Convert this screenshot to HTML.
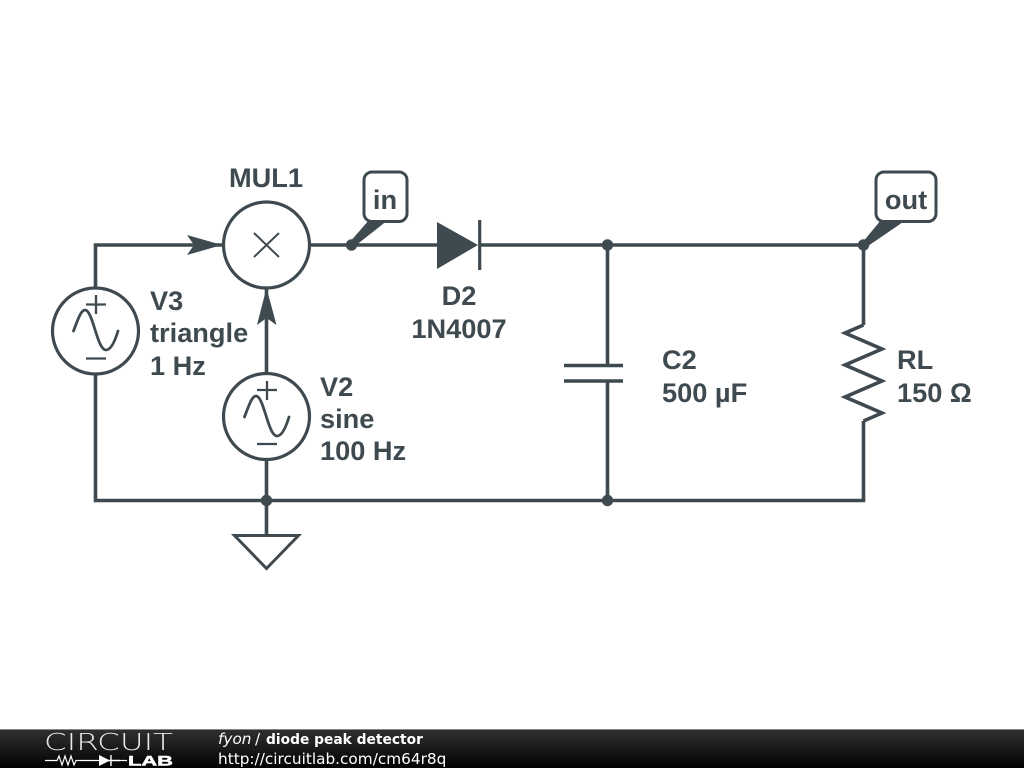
<!DOCTYPE html>
<html>
<head>
<meta charset="utf-8">
<title>diode peak detector</title>
<style>
html,body{margin:0;padding:0;background:#fff;width:1024px;height:768px;overflow:hidden}
svg{display:block}
.l{font-family:"Liberation Sans",sans-serif;font-weight:bold;font-size:27.2px;fill:#3f4a50}
.f{font-family:"DejaVu Sans",sans-serif;font-size:15.3px;fill:#fff}
</style>
</head>
<body>
<svg width="1024" height="768" viewBox="0 0 1024 768" xmlns="http://www.w3.org/2000/svg">
<defs>
<linearGradient id="bar" x1="0" y1="0" x2="0" y2="1">
<stop offset="0" stop-color="#303030"/>
<stop offset="0.5" stop-color="#1a1a1a"/>
<stop offset="1" stop-color="#000"/>
</linearGradient>
</defs>
<rect width="1024" height="768" fill="#fff"/>

<g fill="none" stroke="#3f4a50" stroke-width="3.600" stroke-linejoin="miter">
  <!-- wires -->
  <path d="M95.5 288V245H222"/>
  <path d="M95.5 374V500.5H863.5V421"/>
  <path d="M266.5 288V373"/>
  <path d="M266.5 460V535"/>
  <path d="M310 245H437"/>
  <path d="M480 245H863.5V325"/>
  <path d="M607.5 245V365.5"/>
  <path d="M607.5 381V500.5"/>
  <!-- resistor -->
  <path d="M863.5 325L845 333L882 349L845 365L882 381L845 397L882 413L863.5 421"/>
  <!-- circles -->
  <circle cx="266.5" cy="245" r="43" stroke-width="3.200"/>
  <circle cx="95.5" cy="331" r="43" stroke-width="3.200"/>
  <circle cx="266.5" cy="416.5" r="43" stroke-width="3.200"/>
  <!-- capacitor -->
  <path d="M564 365.5H623M564 381H623"/>
  <!-- ground -->
  <path d="M234.500 535.500H298.500L266.500 568.500Z" stroke-width="3"/>
  <!-- diode bar -->
  <path d="M479.700 220V270" stroke-width="3.200"/>
</g>

<!-- multiply symbol -->
<path d="M254 233L279 257M279 233L254 257" fill="none" stroke="#3f4a50" stroke-width="2"/>

<!-- sources: signs and waves -->
<g fill="none" stroke="#3f4a50" stroke-width="2.300">
  <path d="M86 304.500H106M96 295V314M86 358.500H106"/>
  <path d="M73.500 331C78 319 81 310 85 310C93 310 97 350 106 350C111 350 115 341 118 331" stroke-linecap="round" stroke-width="2.800"/>
  <path d="M257 390H277M267 381V400M257 444H277"/>
  <path d="M244.500 417C249 405 252 396 256 396C264 396 268 436 277 436C282 436 286 427 289 417" stroke-linecap="round" stroke-width="2.800"/>
</g>

<g fill="#3f4a50">
  <!-- arrowheads -->
  <path d="M187 235L222 245L187 255L194 245Z"/>
  <path d="M257 325L266.500 288L276.500 325L266.500 318Z"/>
  <!-- diode -->
  <path d="M437 222L478 245L437 269Z"/>
  <!-- junction dots -->
  <circle cx="351.500" cy="245" r="5.700"/>
  <circle cx="607.500" cy="245" r="5.700"/>
  <circle cx="863.500" cy="245" r="5.700"/>
  <circle cx="607.500" cy="500.500" r="5.700"/>
  <circle cx="266.500" cy="500.500" r="5.700"/>
  <!-- tag pointers -->
  <path d="M349 243L369 220H388L355 246Z"/>
  <path d="M862 243L881 220H906L868 246Z"/>
</g>

<!-- tags -->
<g fill="#fff" stroke="#3f4a50" stroke-width="3">
  <rect x="364" y="172" width="43" height="49.500" rx="8"/>
  <rect x="876" y="172" width="60" height="49.500" rx="8"/>
</g>

<!-- labels -->
<text class="l" x="266" y="187" text-anchor="middle">MUL1</text>
<text class="l" x="385" y="209" text-anchor="middle">in</text>
<text class="l" x="906" y="209" text-anchor="middle">out</text>
<text class="l" x="150" y="310">V3</text>
<text class="l" x="150" y="342">triangle</text>
<text class="l" x="150" y="375">1 Hz</text>
<text class="l" x="320" y="396">V2</text>
<text class="l" x="320" y="428">sine</text>
<text class="l" x="320" y="460">100 Hz</text>
<text class="l" x="459" y="305" text-anchor="middle">D2</text>
<text class="l" x="459" y="338" text-anchor="middle">1N4007</text>
<text class="l" x="662" y="369">C2</text>
<text class="l" x="662" y="402">500 µF</text>
<text class="l" x="897" y="369">RL</text>
<text class="l" x="897" y="402">150 Ω</text>

<!-- footer -->
<rect x="0" y="729" width="1024" height="39" fill="url(#bar)"/>
<rect x="0" y="729" width="1024" height="1" fill="#888"/>
<text x="44" y="750" font-family="'DejaVu Sans',sans-serif" font-weight="200" font-size="23" fill="#e8e8e8" textLength="129" lengthAdjust="spacingAndGlyphs">CIRCUIT</text>
<path d="M45 760.500H57L59 756L62 765L65 756L68 765L71 756L74 765L76 760.500H99M120 760.500H127" fill="none" stroke="#fff" stroke-width="1.200"/>
<path d="M99 755V766L110 760.500Z" fill="#fff"/>
<path d="M99 760.500H120M111 755V766" fill="none" stroke="#fff" stroke-width="1.400"/>
<text x="128" y="765.500" font-family="'Liberation Sans',sans-serif" font-weight="bold" font-size="14" fill="#fff" stroke="#fff" stroke-width="0.500" textLength="45" lengthAdjust="spacingAndGlyphs">LAB</text>
<text class="f" x="218" y="744" font-style="italic">fyon</text>
<text class="f" x="255" y="744">/</text>
<text class="f" x="266" y="744" font-weight="bold" style="font-size:13.8px">diode peak detector</text>
<text class="f" x="218" y="764">http://circuitlab.com/cm64r8q</text>
</svg>
</body>
</html>
